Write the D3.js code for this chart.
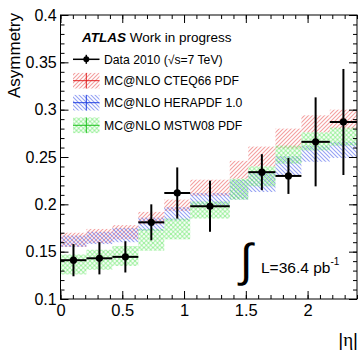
<!DOCTYPE html>
<html>
<head>
<meta charset="utf-8">
<script src="https://cdn.jsdelivr.net/npm/d3@7"></script>
<style>
  html, body { margin: 0; padding: 0; background: #fff; }
  svg { display: block; }
  text { font-family: "Liberation Sans", Arial, Helvetica, sans-serif; fill: #000; }
</style>
</head>
<body>
<svg id="chart" width="360" height="353"></svg>
<script>
// |eta| binning of the MC predictions
const binEdges = [0, 0.21, 0.42, 0.63, 0.84, 1.05, 1.37, 1.52, 1.74, 1.95, 2.18, 2.4];

// Measured asymmetry (the 1.37-1.52 crack is excluded)
const dataEtaLow  = [0, 0.21, 0.42, 0.63, 0.84, 1.05, 1.52, 1.74, 1.95, 2.18];
const dataEtaHigh = [0.21, 0.42, 0.63, 0.84, 1.05, 1.37, 1.74, 1.95, 2.18, 2.4];
const dataAsym    = [0.141, 0.143, 0.1445, 0.181, 0.212, 0.198, 0.234, 0.230, 0.266, 0.287];
const dataErr     = [0.017, 0.017, 0.0165, 0.019, 0.027, 0.027, 0.019, 0.019, 0.047, 0.056];

// MC@NLO predictions: lower / upper edge of the PDF uncertainty band per bin
const cteqLo = [0.155, 0.159, 0.163, 0.179, 0.193, 0.209, 0.227, 0.240, 0.259, 0.276, 0.280];
const cteqHi = [0.170, 0.174, 0.178, 0.192, 0.205, 0.226, 0.246, 0.261, 0.280, 0.294, 0.300];
const heraLo = [0.155, 0.158, 0.160, 0.172, 0.183, 0.199, 0.205, 0.213, 0.231, 0.245, 0.249];
const heraHi = [0.167, 0.171, 0.175, 0.186, 0.197, 0.212, 0.226, 0.234, 0.251, 0.262, 0.266];
const mstwLo = [0.126, 0.131, 0.135, 0.151, 0.163, 0.185, 0.205, 0.219, 0.243, 0.257, 0.262];
const mstwHi = [0.147, 0.152, 0.156, 0.174, 0.185, 0.203, 0.227, 0.240, 0.262, 0.276, 0.281];

// Axis ticks and labels
const xMajor = [0, 0.5, 1, 1.5, 2];
const xLabels = ["0", "0.5", "1", "1.5", "2"];
const yMajor = [0.1, 0.15, 0.2, 0.25, 0.3, 0.35, 0.4];
const yLabels = ["0.1", "0.15", "0.2", "0.25", "0.3", "0.35", "0.4"];

const legendLabels = ["Data 2010 (\u221As=7 TeV)", "MC@NLO CTEQ66 PDF", "MC@NLO HERAPDF 1.0", "MC@NLO MSTW08 PDF"];

const svg = d3.select("#chart");
const L = 60.5, R = 357, T = 15, B = 299;
const x = d3.scaleLinear().domain([0, 2.4]).range([L, R]);
const y = d3.scaleLinear().domain([0.1, 0.4]).range([B, T]);

// Hatch patterns for the three bands
const defs = svg.append("defs");
function hatch(id, color, dirs, size, width) {
  const p = defs.append("pattern").attr("id", id)
    .attr("patternUnits", "userSpaceOnUse").attr("width", size).attr("height", size);
  dirs.forEach(d => {
    const path = d === "/"
      ? `M0,${size} L${size},0 M${-size / 2},${size / 2} L${size / 2},${-size / 2} M${size / 2},${size * 1.5} L${size * 1.5},${size / 2}`
      : `M0,0 L${size},${size} M${-size / 2},${size / 2} L${size / 2},${size * 1.5} M${size / 2},${-size / 2} L${size * 1.5},${size / 2}`;
    p.append("path").attr("d", path).attr("stroke", color).attr("stroke-width", width).attr("fill", "none");
  });
}
hatch("hRed", "rgba(235,95,95,0.6)", ["/"], 4, 1.1);
hatch("hBlue", "rgba(80,100,235,0.6)", ["\\"], 4, 1.1);
hatch("hGreen", "rgba(95,230,95,0.55)", ["/", "\\"], 4.5, 1.1);

const bands = [
  { lo: cteqLo, hi: cteqHi, fill: "url(#hRed)", line: "#e02020" },
  { lo: heraLo, hi: heraHi, fill: "url(#hBlue)", line: "#2040e0" },
  { lo: mstwLo, hi: mstwHi, fill: "url(#hGreen)", line: "#20c020" }
];

const plot = svg.append("g");
bands.forEach(b => {
  plot.append("g").selectAll("rect")
    .data(d3.range(binEdges.length - 1))
    .join("rect")
    .attr("x", i => x(binEdges[i]))
    .attr("width", i => x(binEdges[i + 1]) - x(binEdges[i]))
    .attr("y", i => y(b.hi[i]))
    .attr("height", i => y(b.lo[i]) - y(b.hi[i]))
    .attr("fill", b.fill);
});

// Axes: ticks drawn inward on all four sides
function addAxis(axisFn, scale, values, size, labels, transform) {
  const ax = axisFn(scale).tickValues(values).tickSize(-size).tickPadding(3)
    .tickFormat((d, i) => labels ? labels[i] : "");
  const g = svg.append("g").attr("transform", transform).call(ax);
  g.select(".domain").remove();
  g.selectAll(".tick line").attr("stroke", "#000").attr("stroke-width", 1);
  return g;
}
const xMinor = d3.range(0, 24.01, 1).map(v => v / 10).filter(v => v <= 2.4);
const yMinor = d3.range(10, 40.01, 1).map(v => v / 100);

const gx = addAxis(d3.axisBottom, x, xMajor, 8, xLabels, `translate(0,${B})`);
gx.selectAll("text").attr("font-size", 16.5).attr("dy", "0.85em");
addAxis(d3.axisBottom, x, xMinor, 4, null, `translate(0,${B})`);
addAxis(d3.axisTop, x, xMajor, 8, null, `translate(0,${T})`);
addAxis(d3.axisTop, x, xMinor, 4, null, `translate(0,${T})`);

const gy = addAxis(d3.axisLeft, y, yMajor, 8, yLabels, `translate(${L},0)`);
gy.selectAll("text").attr("font-size", 16).attr("dx", "-0.05em");
addAxis(d3.axisLeft, y, yMinor, 4, null, `translate(${L},0)`);
addAxis(d3.axisRight, y, yMajor, 8, null, `translate(${R},0)`);
addAxis(d3.axisRight, y, yMinor, 4, null, `translate(${R},0)`);

svg.append("rect").attr("x", L).attr("y", T).attr("width", R - L).attr("height", B - T)
  .attr("fill", "none").attr("stroke", "#000").attr("stroke-width", 1);

// Data points with error bars
const pts = svg.append("g");
dataAsym.forEach((v, i) => {
  const cx = x((dataEtaLow[i] + dataEtaHigh[i]) / 2);
  pts.append("line").attr("x1", x(dataEtaLow[i])).attr("x2", x(dataEtaHigh[i]))
    .attr("y1", y(v)).attr("y2", y(v)).attr("stroke", "#000").attr("stroke-width", 2);
  pts.append("line").attr("x1", cx).attr("x2", cx)
    .attr("y1", y(v - dataErr[i])).attr("y2", y(v + dataErr[i])).attr("stroke", "#000").attr("stroke-width", 2);
  pts.append("circle").attr("cx", cx).attr("cy", y(v)).attr("r", 3.6).attr("fill", "#000");
});

// Axis titles
const eta = svg.append("text").attr("x", 358).attr("y", 346).attr("text-anchor", "end").attr("font-size", 19);
eta.append("tspan").text("|");
eta.append("tspan").attr("font-family", "Liberation Serif").text("\u03B7");
eta.append("tspan").text("|");
svg.append("text").attr("transform", "translate(20,13) rotate(-90)").attr("text-anchor", "end")
  .attr("font-size", 17).text("Asymmetry");

// Header and legend
const hdr = svg.append("text").attr("x", 82).attr("y", 41.5).attr("font-size", 13.5);
hdr.append("tspan").attr("font-weight", "bold").attr("font-style", "italic").text("ATLAS");
hdr.append("tspan").text(" Work in progress");

const lx0 = 73, lx1 = 99.5, lcx = 86.3, ltx = 104;
const rowY = [59.3, 80.7, 102.7, 125.3];
svg.append("line").attr("x1", lx0).attr("x2", lx1).attr("y1", rowY[0]).attr("y2", rowY[0])
  .attr("stroke", "#000").attr("stroke-width", 1.5);
svg.append("line").attr("x1", lcx).attr("x2", lcx).attr("y1", rowY[0] - 4.5).attr("y2", rowY[0] + 4.5)
  .attr("stroke", "#000").attr("stroke-width", 1.5);
svg.append("circle").attr("cx", lcx).attr("cy", rowY[0]).attr("r", 3).attr("fill", "#000");
bands.forEach((b, k) => {
  const cy = rowY[k + 1];
  svg.append("rect").attr("x", lx0).attr("y", cy - 7.8).attr("width", lx1 - lx0).attr("height", 15.6)
    .attr("fill", b.fill);
  svg.append("line").attr("x1", lx0).attr("x2", lx1).attr("y1", cy).attr("y2", cy)
    .attr("stroke", b.line).attr("stroke-width", 1);
  svg.append("line").attr("x1", lcx).attr("x2", lcx).attr("y1", cy - 7.8).attr("y2", cy + 7.8)
    .attr("stroke", b.line).attr("stroke-width", 1);
});
legendLabels.forEach((t, k) => {
  svg.append("text").attr("x", ltx).attr("y", rowY[k] + 4.4).attr("font-size", 12.2).text(t);
});

// Integrated luminosity
svg.append("text").attr("x", 240).attr("y", 276).attr("font-size", 46)
  .attr("font-family", "Liberation Serif").text("\u222B");
const lumi = svg.append("text").attr("x", 261).attr("y", 273).attr("font-size", 15.5);
lumi.append("tspan").text("L=36.4 pb");
lumi.append("tspan").attr("dy", -8).attr("font-size", 10).text("-1");
</script>
</body>
</html>
